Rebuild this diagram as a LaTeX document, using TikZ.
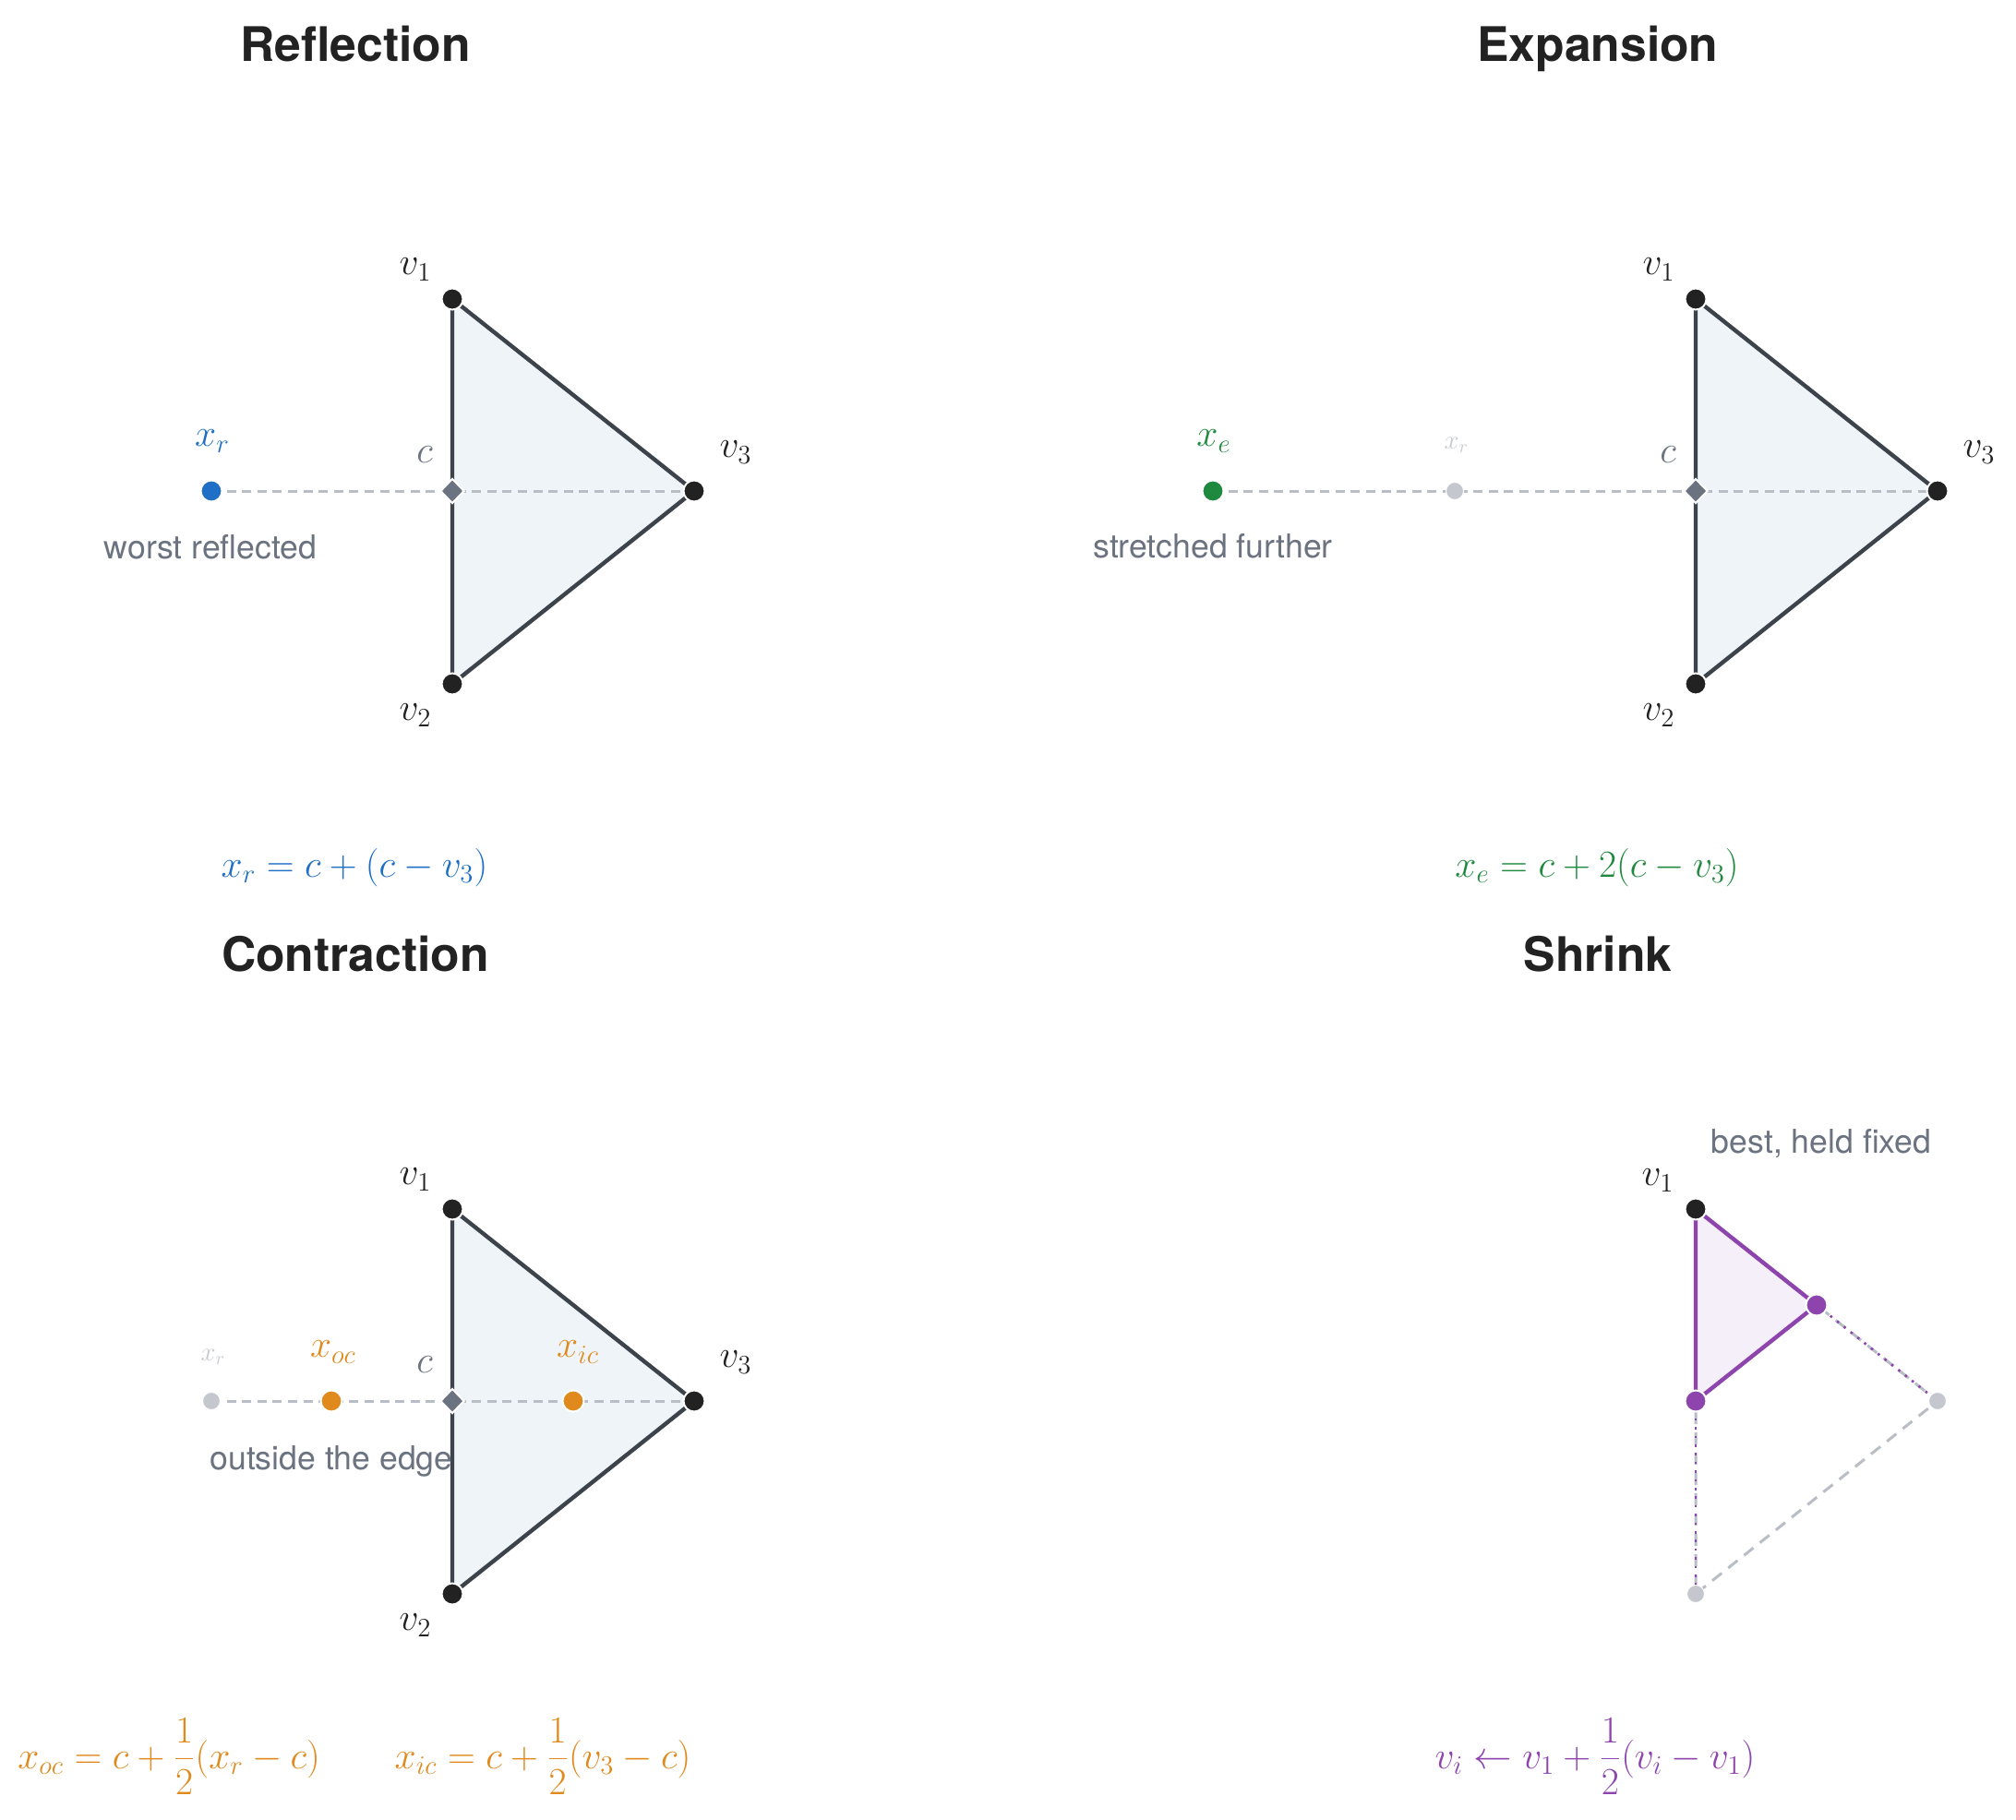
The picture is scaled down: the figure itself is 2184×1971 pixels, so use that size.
\documentclass[tikz,border=0pt]{standalone}
\usepackage{fontspec}
\newfontfamily\heros{TeX Gyre Heros}
\usetikzlibrary{shapes.geometric,backgrounds}
\definecolor{edgec}{HTML}{3D434B}
\definecolor{fillc}{HTML}{EFF4F9}
\definecolor{dotc}{HTML}{222222}
\definecolor{cgrey}{HTML}{6B7280}
\definecolor{faint}{HTML}{C4C8CE}
\definecolor{faintl}{HTML}{C6CAD0}
\definecolor{dashc}{HTML}{B9BEC6}
\definecolor{blu}{HTML}{1F6FC6}
\definecolor{grn}{HTML}{1F8A3E}
\definecolor{org}{HTML}{E08A1E}
\definecolor{pur}{HTML}{8E44AD}
\definecolor{purfill}{HTML}{F4EFF8}
\tikzset{
  vdot/.style={circle, fill=dotc, draw=white, line width=1pt, minimum size=11.5pt, inner sep=0pt},
  fdot/.style={circle, fill=faint, draw=white, line width=0.5pt, minimum size=9.5pt, inner sep=0pt},
  cdia/.style={diamond, fill=cgrey, draw=white, line width=1pt, minimum width=13pt, minimum height=13.5pt, inner sep=0pt},
  triedge/.style={draw=edgec, line width=2.2pt, line join=round},
  puredge/.style={draw=pur, line width=2.2pt, line join=round},
  guide/.style={draw=dashc, line width=1.5pt, dash pattern=on 5pt off 3.3pt},
  oldtri/.style={draw=dashc, line width=1.5pt, dash pattern=on 6.5pt off 4.5pt},
  purdot/.style={draw=pur, line width=1.3pt, dash pattern=on 1.3pt off 3.4pt},
  ttl/.style={font=\heros\bfseries\fontsize{25.8}{30}\selectfont, text=dotc, anchor=base, inner sep=0pt},
  note/.style={font=\heros\fontsize{17.8}{21}\selectfont, text=cgrey, inner sep=0pt},
  mlab/.style={font=\fontsize{20.74}{25}\selectfont, text=dotc, inner sep=0pt},
  flab/.style={font=\fontsize{14.4}{18}\selectfont, text=faintl, inner sep=0pt},
  fml/.style={font=\fontsize{20.74}{25}\selectfont, inner sep=0pt},
}
\begin{document}
\begin{tikzpicture}[x=0.5pt, y=-0.5pt]
\useasboundingbox (0,0) rectangle (2184,1971);
\begin{scope}[on background layer]
  \fill[white] (0,0) rectangle (2184,1971);
\end{scope}

% ---------------- Reflection ----------------
\node[ttl] (t1) at (385,66) {Reflection};
\node[vdot] (r1) at (490,324) {};
\node[vdot] (r2) at (490,741) {};
\node[vdot] (r3) at (752,532) {};
\node[cdia] (rc) at (490,532) {};
\node[vdot, fill=blu] (rx) at (229,532) {};
\begin{scope}[on background layer]
  \fill[fillc] (r1.center) -- (r2.center) -- (r3.center) -- cycle;
  \draw[triedge] (r1.center) -- (r2.center) -- (r3.center) -- cycle;
  \draw[guide] (rx.center) -- (r3.center);
\end{scope}
\node[mlab] (r1l) at (450,292) {$v_1$};
\node[mlab] (r2l) at (450,775) {$v_2$};
\node[mlab] (r3l) at (797,490) {$v_3$};
\node[mlab, text=cgrey] (rcl) at (460,493) {$c$};
\node[mlab, text=blu] (rxl) at (230,478) {$x_r$};
\node[note] (rn) at (228,593) {worst reflected};
\node[fml, text=blu] (rf) at (384,940) {$x_r = c + (c - v_3)$};

% ---------------- Expansion ----------------
\begin{scope}[shift={(1347,0)}]
\node[ttl] (t2) at (384,66) {Expansion};
\node[vdot] (e1) at (490,324) {};
\node[vdot] (e2) at (490,741) {};
\node[vdot] (e3) at (752,532) {};
\node[cdia] (ec) at (490,532) {};
\node[fdot] (ex) at (229,532) {};
\node[vdot, fill=grn] (ee) at (-33,532) {};
\begin{scope}[on background layer]
  \fill[fillc] (e1.center) -- (e2.center) -- (e3.center) -- cycle;
  \draw[triedge] (e1.center) -- (e2.center) -- (e3.center) -- cycle;
  \draw[guide] (ee.center) -- (e3.center);
\end{scope}
\node[mlab] (e1l) at (450,292) {$v_1$};
\node[mlab] (e2l) at (450,775) {$v_2$};
\node[mlab] (e3l) at (797,490) {$v_3$};
\node[mlab, text=cgrey] (ecl) at (460,493) {$c$};
\node[flab] (exl) at (231,482) {$x_r$};
\node[mlab, text=grn] (eel) at (-32,478) {$x_e$};
\node[note] (en) at (-33,592) {stretched further};
\node[fml, text=grn] (ef) at (383,940) {$x_e = c + 2(c - v_3)$};
\end{scope}

% ---------------- Contraction ----------------
\begin{scope}[shift={(0,986)}]
\node[ttl] (t3) at (385,66) {Contraction};
\node[vdot] (k1) at (490,324) {};
\node[vdot] (k2) at (490,741) {};
\node[vdot] (k3) at (752,532) {};
\node[cdia] (kc) at (490,532) {};
\node[fdot] (kx) at (229,532) {};
\node[vdot, fill=org] (ko) at (359,532) {};
\node[vdot, fill=org] (ki) at (621,532) {};
\begin{scope}[on background layer]
  \fill[fillc] (k1.center) -- (k2.center) -- (k3.center) -- cycle;
  \draw[triedge] (k1.center) -- (k2.center) -- (k3.center) -- cycle;
  \draw[guide] (kx.center) -- (k3.center);
\end{scope}
\node[mlab] (k1l) at (450,292) {$v_1$};
\node[mlab] (k2l) at (450,775) {$v_2$};
\node[mlab] (k3l) at (797,490) {$v_3$};
\node[mlab, text=cgrey] (kcl) at (460,493) {$c$};
\node[flab] (kxl) at (231,484) {$x_r$};
\node[mlab, text=org] (kol) at (361,479) {$x_{oc}$};
\node[mlab, text=org] (kil) at (626,479) {$x_{ic}$};
\node[note] (kn) at (359,597) {outside the edge};
\node[fml, text=org] (kf1) at (183,917) {$\displaystyle x_{oc} = c + \frac{1}{2}(x_r - c)$};
\node[fml, text=org] (kf2) at (588,917) {$\displaystyle x_{ic} = c + \frac{1}{2}(v_3 - c)$};
\end{scope}

% ---------------- Shrink ----------------
\begin{scope}[shift={(1347,986)}]
\node[ttl] (t4) at (384,66) {Shrink};
\node[vdot] (s1) at (490,324) {};
\node[fdot] (so2) at (490,741) {};
\node[fdot] (so3) at (752,532) {};
\node[vdot, fill=pur] (sn2) at (490,532) {};
\node[vdot, fill=pur] (sn3) at (621,428) {};
\begin{scope}[on background layer]
  \draw[oldtri] (s1.center) -- (so2.center) -- (so3.center) -- cycle;
  \fill[purfill] (s1.center) -- (sn2.center) -- (sn3.center) -- cycle;
  \draw[puredge] (s1.center) -- (sn2.center) -- (sn3.center) -- cycle;
  \draw[purdot] (sn3.center) -- (so3.center);
  \draw[purdot] (sn2.center) -- (so2.center);
\end{scope}
\node[mlab] (s1l) at (449,293) {$v_1$};
\node[note] (sn) at (626,253) {best, held fixed};
\node[fml, text=pur] (sf) at (381,917) {$\displaystyle v_i \leftarrow v_1 + \frac{1}{2}(v_i - v_1)$};
\end{scope}
\end{tikzpicture}
\end{document}
